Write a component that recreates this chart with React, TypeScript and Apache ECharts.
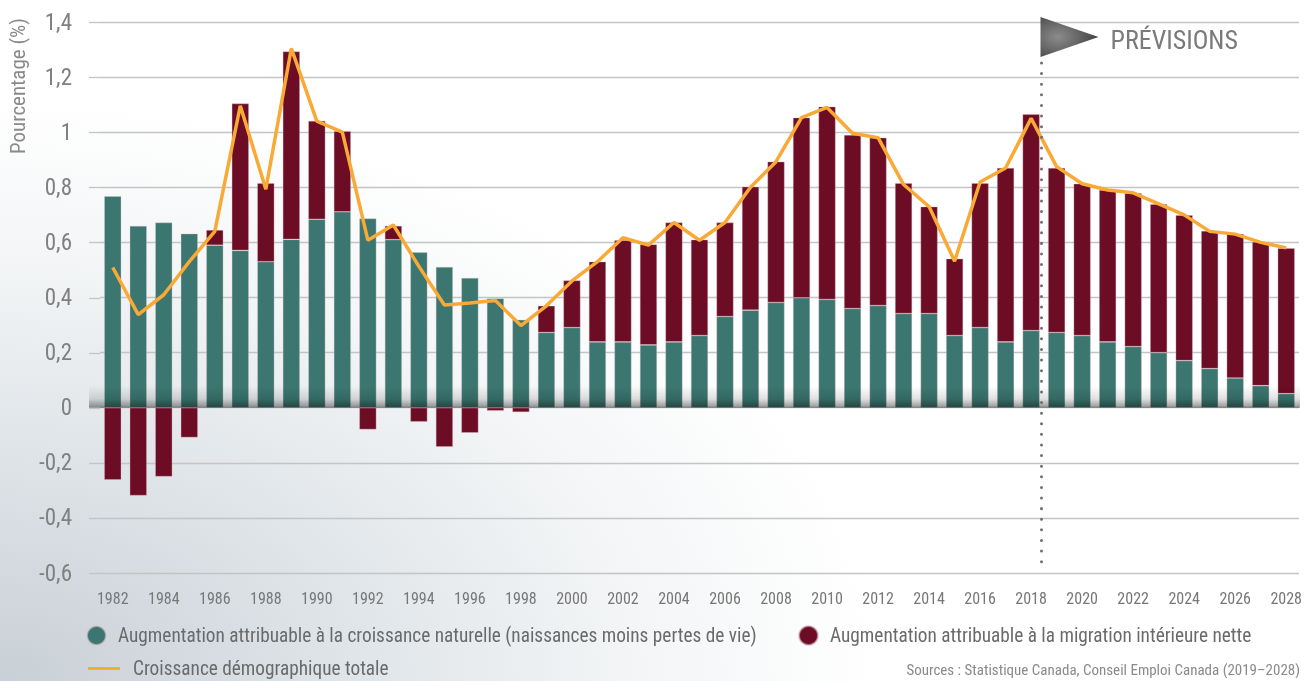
import React, { useEffect, useRef } from "react";
import * as echarts from "echarts";

const years = [
  "1982","1983","1984","1985","1986","1987","1988","1989","1990","1991",
  "1992","1993","1994","1995","1996","1997","1998","1999","2000","2001",
  "2002","2003","2004","2005","2006","2007","2008","2009","2010","2011",
  "2012","2013","2014","2015","2016","2017","2018","2019","2020","2021",
  "2022","2023","2024","2025","2026","2027","2028",
];

// Augmentation attribuable à la croissance naturelle
const natural = [
  0.768, 0.66, 0.672, 0.632, 0.59, 0.571, 0.53, 0.611, 0.684, 0.711,
  0.687, 0.61, 0.564, 0.511, 0.471, 0.397, 0.319, 0.273, 0.291, 0.239,
  0.239, 0.228, 0.239, 0.262, 0.331, 0.354, 0.382, 0.399, 0.393, 0.36,
  0.371, 0.342, 0.342, 0.262, 0.291, 0.239, 0.28, 0.273, 0.262, 0.239,
  0.222, 0.2, 0.171, 0.142, 0.108, 0.08, 0.051,
];

// Augmentation attribuable à la migration intérieure nette
const migration = [
  -0.262, -0.319, -0.25, -0.108, 0.055, 0.533, 0.285, 0.682, 0.357, 0.293,
  -0.079, 0.05, -0.051, -0.142, -0.091, -0.011, -0.016, 0.097, 0.171, 0.291,
  0.369, 0.365, 0.433, 0.348, 0.341, 0.448, 0.511, 0.654, 0.7, 0.63,
  0.609, 0.473, 0.388, 0.279, 0.524, 0.631, 0.785, 0.597, 0.551, 0.551,
  0.557, 0.539, 0.528, 0.5, 0.523, 0.522, 0.528,
];

// Croissance démographique totale
const total = [
  0.509, 0.338, 0.41, 0.53, 0.64, 1.096, 0.793, 1.304, 1.04, 1.0,
  0.608, 0.663, 0.513, 0.373, 0.38, 0.389, 0.298, 0.37, 0.46, 0.53,
  0.617, 0.59, 0.672, 0.608, 0.672, 0.8, 0.893, 1.053, 1.09, 0.996,
  0.98, 0.81, 0.73, 0.532, 0.819, 0.87, 1.05, 0.875, 0.813, 0.79,
  0.78, 0.74, 0.7, 0.64, 0.63, 0.6, 0.58,
];

const yTicks = [-0.6, -0.4, -0.2, 0, 0.2, 0.4, 0.6, 0.8, 1, 1.2, 1.4];

const seriesNames = [
  "Augmentation attribuable à la croissance naturelle (naissances moins pertes de vie)",
  "Augmentation attribuable à la migration intérieure nette",
  "Croissance démographique totale",
];

const forecastStart = "2018";
const forecastLabel = "PRÉVISIONS";
const yAxisTitle = "Pourcentage (%)";
const sourceText = "Sources : Statistique Canada, Conseil Emploi Canada (2019–2028)";

const GREEN = "#3b7770";
const RED = "#6c0c25";
const ORANGE = "#f9a936";
const FONT = "'Liberation Sans Narrow', 'Roboto Condensed', 'Roboto', sans-serif";

export default function App() {
  const ref = useRef<HTMLDivElement>(null);

  useEffect(() => {
    if (!ref.current) return;
    const chart = echarts.init(ref.current, null, { renderer: "svg" });
    const legendText = { fontFamily: FONT, fontSize: 19.3, color: "#6a6a6a", padding: [0, 0, 0, 7] };
    chart.setOption({
      animation: false,
      backgroundColor: "transparent",
      grid: { left: 100, right: 5, top: 22, bottom: 108, containLabel: false },
      xAxis: {
        type: "category",
        data: years,
        axisLine: { show: false },
        axisTick: { show: false },
        axisLabel: {
          interval: 1,
          fontFamily: FONT,
          fontSize: 16,
          color: "#777",
          margin: 17,
        },
      },
      yAxis: {
        type: "value",
        min: -0.6,
        max: 1.4,
        interval: 0.2,
        axisLine: { show: false },
        axisTick: { show: false },
        splitLine: { lineStyle: { color: "#c4c4c4", width: 1.3 } },
        axisLabel: {
          fontFamily: FONT,
          fontSize: 23,
          color: "#808080",
          margin: 28,
          formatter: (v: number) => String(Math.round(v * 10) / 10).replace(".", ","),
        },
      },
      legend: [
        {
          data: [{ name: seriesNames[0], icon: "circle" }],
          left: 86,
          top: 625,
          padding: 0,
          itemWidth: 19,
          itemHeight: 19,
          textStyle: legendText,
        },
        {
          data: [{ name: seriesNames[1], icon: "circle" }],
          left: 798,
          top: 625,
          padding: 0,
          itemWidth: 19,
          itemHeight: 19,
          textStyle: legendText,
        },
        {
          data: [{ name: seriesNames[2], icon: "rect" }],
          left: 88,
          top: 659,
          padding: 0,
          itemWidth: 32,
          itemHeight: 3,
          textStyle: { ...legendText, padding: [0, 0, 0, 8] },
        },
      ],
      series: [
        {
          name: seriesNames[0],
          type: "bar",
          stack: "total",
          data: natural,
          barWidth: "67%",
          itemStyle: { color: GREEN, borderColor: "rgba(220,200,205,0.6)", borderWidth: 0.6 },
        },
        {
          name: seriesNames[1],
          type: "bar",
          stack: "total",
          data: migration,
          barWidth: "67%",
          itemStyle: { color: RED, borderColor: "rgba(220,180,190,0.6)", borderWidth: 0.6 },
        },
        {
          name: seriesNames[2],
          type: "line",
          data: total,
          symbol: "none",
          lineStyle: { color: ORANGE, width: 3.5 },
          itemStyle: { color: ORANGE },
          z: 5,
        },
      ],
    });

    const xa = chart.convertToPixel({ xAxisIndex: 0 }, forecastStart) as number;
    const idx = years.indexOf(forecastStart);
    const xb = chart.convertToPixel({ xAxisIndex: 0 }, years[idx + 1]) as number;
    const lx = Math.round(xa + 0.37 * (xb - xa)) + 0.5;
    const y0 = chart.convertToPixel({ yAxisIndex: 0 }, 0) as number;
    const yTop = chart.convertToPixel({ yAxisIndex: 0 }, 1.4) as number;
    const yBot = chart.convertToPixel({ yAxisIndex: 0 }, -0.6) as number;
    const gridLeft = 100;

    const extLines = yTicks.map((t) => {
      const y = Math.round(chart.convertToPixel({ yAxisIndex: 0 }, t) as number) + 0.5;
      return {
        type: "line",
        shape: { x1: 89, y1: y, x2: gridLeft, y2: y },
        style: { stroke: "#c4c4c4", lineWidth: 1.3 },
        silent: true,
      };
    });

    chart.setOption({
      graphic: [
        ...extLines,
        {
          type: "rect",
          shape: { x: 89, y: y0 - 22, width: 1300 - 89, height: 22 },
          style: {
            fill: new echarts.graphic.LinearGradient(0, 0, 0, 1, [
              { offset: 0, color: "rgba(0,0,0,0)" },
              { offset: 0.6, color: "rgba(0,0,0,0.12)" },
              { offset: 1, color: "rgba(0,0,0,0.42)" },
            ]),
          },
          z: 100,
          silent: true,
        },
        {
          type: "line",
          shape: { x1: lx, y1: yTop + 41, x2: lx, y2: yBot - 4 },
          style: { stroke: "#707070", lineWidth: 3, lineDash: [0.01, 10.6], lineCap: "round" },
          z: 101,
          silent: true,
        },
        {
          type: "polygon",
          shape: { points: [[lx - 1, yTop - 5], [lx + 57, yTop + 15], [lx - 1, yTop + 35]] },
          style: {
            fill: new echarts.graphic.RadialGradient(0.3, 0.5, 0.75, [
              { offset: 0, color: "#8c8c8c" },
              { offset: 1, color: "#3c3c3c" },
            ]),
          },
          z: 101,
          silent: true,
        },
        {
          type: "text",
          x: lx + 69,
          y: yTop + 18,
          style: {
            text: forecastLabel,
            fontFamily: FONT,
            fontSize: 26,
            fill: "#7a7a7a",
            align: "left",
            verticalAlign: "middle",
          },
          z: 101,
        },
        {
          type: "text",
          x: 18,
          y: 86,
          rotation: Math.PI / 2,
          style: {
            text: yAxisTitle,
            fontFamily: FONT,
            fontSize: 21,
            fill: "#8a8a8a",
            align: "center",
            verticalAlign: "middle",
          },
          z: 101,
        },
        {
          type: "text",
          x: 1300,
          y: 662,
          style: {
            text: sourceText,
            fontFamily: FONT,
            fontSize: 15,
            fill: "#8a8a8a",
            align: "right",
            verticalAlign: "top",
          },
          z: 101,
        },
      ],
    });

    return () => chart.dispose();
  }, []);

  return (
    <div
      ref={ref}
      style={{
        position: "fixed",
        left: 0,
        top: 0,
        width: 1305,
        height: 681,
        background:
          "radial-gradient(ellipse 75% 95% at 0% 100%, #c8cfd6 0%, #dfe4e8 35%, #f3f5f6 65%, #ffffff 90%)",
      }}
    />
  );
}
